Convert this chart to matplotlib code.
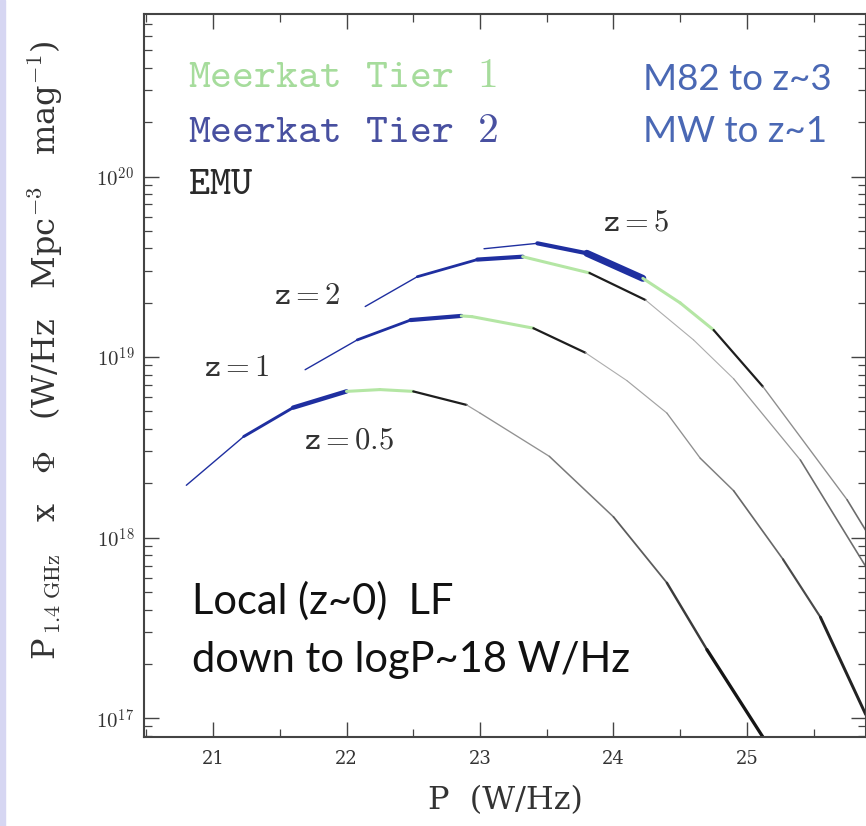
import numpy as np
import matplotlib
matplotlib.use("Agg")
import matplotlib.pyplot as plt
from matplotlib.collections import LineCollection
from matplotlib.patches import Rectangle
from matplotlib.ticker import LogLocator, MultipleLocator, FixedLocator, FuncFormatter

plt.rcParams["mathtext.fontset"] = "cm"
plt.rcParams["font.family"] = "DejaVu Serif"

W, H = 866, 826

# log10 P (W/Hz) and log10 (P x Phi), per redshift
z05_logp = [20.80, 21.23, 21.60, 22.00, 22.25, 22.50, 22.90, 23.00, 23.52, 24.00, 24.40, 24.70, 25.12, 25.25]
z05_logphi = [18.29, 18.56, 18.72, 18.81, 18.82, 18.81, 18.735, 18.69, 18.45, 18.115, 17.75, 17.38, 16.895, 16.75]
z05_seg = ["T2", "T2", "T2", "T1", "T1", "EMU", "LF", "LF", "LF", "LF", "LF", "LF", "LF"]

z1_logp = [21.69, 22.08, 22.48, 22.86, 22.94, 23.40, 23.79, 24.10, 24.40, 24.65, 24.90, 25.27, 25.55, 25.89]
z1_logphi = [18.93, 19.095, 19.205, 19.228, 19.224, 19.16, 19.024, 18.87, 18.69, 18.44, 18.26, 17.88, 17.56, 17.02]
z1_seg = ["T2", "T2", "T2", "T1", "T1", "EMU", "LF", "LF", "LF", "LF", "LF", "LF", "LF"]

z2_logp = [22.14, 22.53, 22.98, 23.32, 23.82, 24.24, 24.60, 24.90, 25.40, 25.89]
z2_logphi = [19.28, 19.445, 19.54, 19.556, 19.466, 19.316, 19.095, 18.88, 18.43, 17.84]
z2_seg = ["T2", "T2", "T2", "T1", "EMU", "LF", "LF", "LF", "LF"]

z5_logp = [23.03, 23.43, 23.80, 24.22, 24.50, 24.75, 25.12, 25.75, 25.89]
z5_logphi = [19.60, 19.63, 19.575, 19.436, 19.30, 19.15, 18.836, 18.21, 18.04]
z5_seg = ["T2", "T2", "T2", "T1", "T1", "EMU", "LF", "LF"]

curves = [
    (z05_logp, z05_logphi, z05_seg, 3.2),
    (z1_logp, z1_logphi, z1_seg, 3.0),
    (z2_logp, z2_logphi, z2_seg, 3.0),
    (z5_logp, z5_logphi, z5_seg, 5.0),
]

z_labels = ["z=0.5", "z=1", "z=2", "z=5"]
z_label_px = [(349, 440), (237, 368), (307, 295), (636, 222)]

xticks = [21, 22, 23, 24, 25]

blue = "#1f2fa0"
green = "#b4e6a4"
black = "#1e1e1e"


def fx(px):
    return px / W


def fy(py):
    return 1 - py / H


def tt(s):
    # typewriter serif face, close to the old plotting package lettering
    return r"$\mathtt{" + s.replace(" ", r"\ ") + "}$"


fig = plt.figure(figsize=(W / 100, H / 100), dpi=100)
fig.patches.append(Rectangle((0, 0), fx(5), 1, transform=fig.transFigure,
                             color="#d6d6f2", zorder=0))

ax = fig.add_axes([fx(144), fy(737), fx(865.5) - fx(144), fy(14) - fy(737)])
ax.set_yscale("log")
ax.set_xlim(20.483, 25.888)
ax.set_ylim(10 ** 16.896, 10 ** 20.9)

for lp, lphi, seg, wmax in curves:
    x = np.array(lp)
    ly = np.array(lphi)
    pts = np.column_stack([x, 10 ** ly])
    segs = [pts[i:i + 2] for i in range(len(seg))]
    n2 = seg.count("T2")
    w2 = np.linspace(1.0, wmax, n2)
    cols, lws = [], []
    i2 = 0
    for i, s in enumerate(seg):
        if s == "T2":
            cols.append(blue); lws.append(w2[i2]); i2 += 1
        elif s == "T1":
            cols.append(green); lws.append(2.2)
        elif s == "EMU":
            cols.append(black); lws.append(1.6)
        else:
            # the faint model line darkens and thickens towards the bottom
            mid = 0.5 * (ly[i] + ly[i + 1])
            g = np.interp(mid, [17.1, 17.9, 18.9], [0.07, 0.35, 0.68])
            cols.append((g, g, g))
            lws.append(np.interp(mid, [17.1, 17.9, 18.9], [2.4, 1.3, 0.8]))
    lc = LineCollection(segs, colors=cols, linewidths=lws, capstyle="round",
                        joinstyle="round")
    ax.add_collection(lc)

# ticks
ax.xaxis.set_major_locator(FixedLocator(xticks))
ax.xaxis.set_minor_locator(MultipleLocator(0.5))
ax.yaxis.set_major_locator(LogLocator(base=10, numticks=10))
ax.yaxis.set_minor_locator(LogLocator(base=10, subs=np.arange(2, 10), numticks=20))
ax.yaxis.set_major_formatter(FuncFormatter(lambda v, p: r"$10^{%d}$" % round(np.log10(v))))
ax.xaxis.set_major_formatter(FuncFormatter(lambda v, p: "%d" % v))
ax.tick_params(which="both", direction="in", top=True, right=True, color="#444444")
ax.tick_params(which="major", length=11, width=1.0, labelcolor="#333333")
ax.tick_params(which="minor", length=5.5, width=0.9)
ax.tick_params(axis="x", pad=9, labelsize=13)
ax.tick_params(axis="y", pad=7, labelsize=15)
for sp in ax.spines.values():
    sp.set_color("#444444")
    sp.set_linewidth(1.5)

# axis labels
fig.text(fx(46), fy(350), r"P$_{\,\rm 1.4\ GHz}$   x   $\Phi$   (W/Hz   Mpc$^{-3}$   mag$^{-1}$)",
         rotation=90, ha="center", va="center", fontsize=23, color="#333333")
fig.text(fx(505), fy(801), "P  (W/Hz)", ha="center", va="center", fontsize=23, color="#333333")

# legend-like text
fig.text(fx(188), fy(75), tt("Meerkat  Tier  1"), ha="left", va="center", fontsize=30,
         color="#a6dc9c")
fig.text(fx(188), fy(130), tt("Meerkat  Tier  2"), ha="left", va="center", fontsize=30,
         color="#4850a0")
fig.text(fx(188), fy(183), tt("EMU"), ha="left", va="center", fontsize=29,
         color="#2a2a2a")

fig.text(fx(643), fy(80), "M82 to z~3", ha="left", va="center", fontsize=26.5,
         color="#4a68b4", family="Lato")
fig.text(fx(643), fy(132), "MW to z~1", ha="left", va="center", fontsize=26.5,
         color="#4a68b4", family="Lato")

fig.text(fx(192), fy(601), "Local (z~0)  LF", ha="left", va="center", fontsize=30,
         color="#111111", family="Lato")
fig.text(fx(192), fy(660), "down to logP~18 W/Hz", ha="left", va="center", fontsize=30,
         color="#111111", family="Lato")

for lab, (px, py) in zip(z_labels, z_label_px):
    fig.text(fx(px), fy(py), tt(lab), ha="center", va="center", fontsize=22,
             color="#333333")

fig.savefig("out.png", dpi=100)
